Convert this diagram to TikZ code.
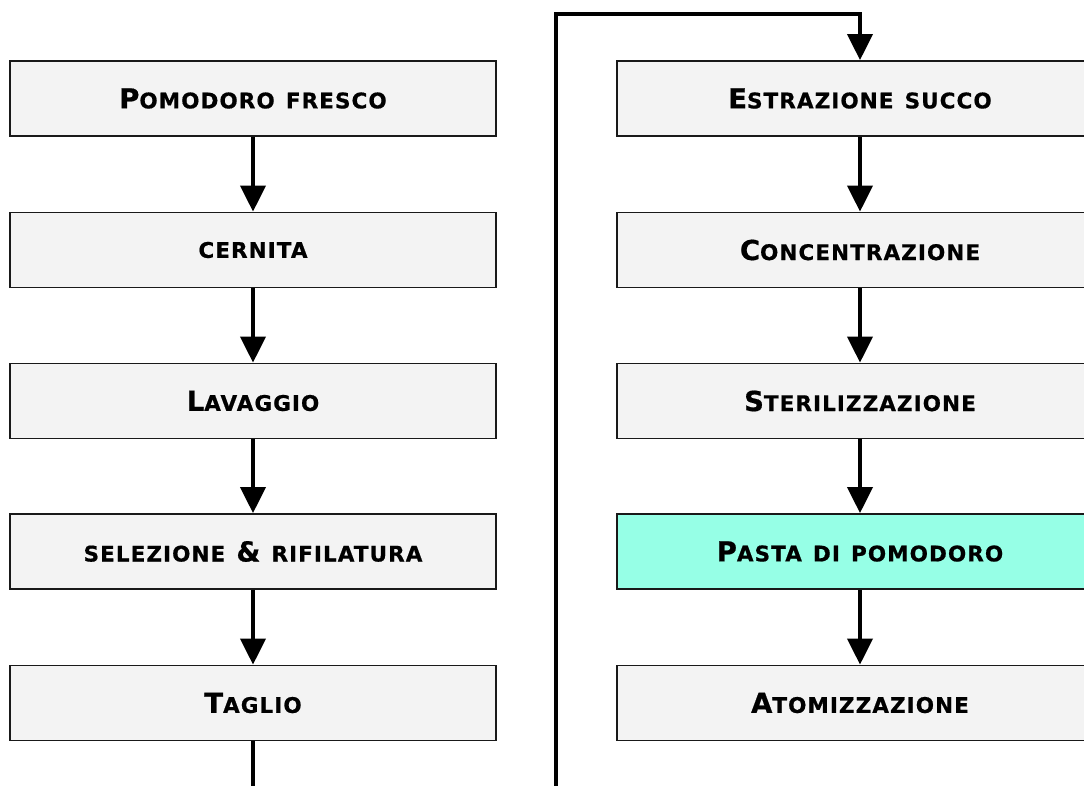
\documentclass[tikz,border=0pt]{standalone}
\usepackage{fontspec}
\setmainfont{DejaVu Sans}
\newfontfamily\stepfont{DejaVu Sans}[LetterSpace=5,WordSpace=1.3,FakeBold=0.7]
\usepackage{tikz}
\usetikzlibrary{arrows.meta}
\usepackage{xcolor}

\definecolor{boxgray}{RGB}{243,243,243}
\definecolor{pastacol}{RGB}{150,255,230}
% finto maiuscoletto: iniziale grande, resto piccolo
\newcommand{\capl}[1]{{\fontsize{27.5}{31}\selectfont #1}}
\newcommand{\smcl}[1]{{\fontsize{21.5}{25}\selectfont #1}}

\tikzset{
  stepbox/.style={draw=black!90, fill=boxgray, line width=1.8pt,
    minimum width=486pt, minimum height=75pt, inner sep=0pt,
    font=\stepfont\bfseries},
  flow/.style={line width=4pt, -{Triangle[length=26pt,width=25pt]}},
  flowline/.style={line width=4pt}
}

\begin{document}
\begin{tikzpicture}[x=1pt,y=-1pt]
\useasboundingbox (0,0) rectangle (1084,785);
\clip (0,0) rectangle (1084,785);
\fill[white] (0,0) rectangle (1084,785);
% colonna sinistra
\node[stepbox] (fresco) at (253,98.5) {\capl{P}\smcl{OMODORO FRESCO}};
\node[stepbox] (cernita) at (253,250) {\smcl{CERNITA}};
\node[stepbox] (lavaggio) at (253,401) {\capl{L}\smcl{AVAGGIO}};
\node[stepbox] (selezione) at (253,551.5) {\smcl{SELEZIONE }\capl{\&}\smcl{ RIFILATURA}};
\node[stepbox] (taglio) at (253,703) {\capl{T}\smcl{AGLIO}};
% colonna destra
\node[stepbox] (estrazione) at (860,98.5) {\capl{E}\smcl{STRAZIONE SUCCO}};
\node[stepbox] (concentr) at (860,250) {\capl{C}\smcl{ONCENTRAZIONE}};
\node[stepbox] (steril) at (860,401) {\capl{S}\smcl{TERILIZZAZIONE}};
\node[stepbox, fill=pastacol] (pasta) at (860,551.5) {\capl{P}\smcl{ASTA DI POMODORO}};
\node[stepbox] (atomizz) at (860,703) {\capl{A}\smcl{TOMIZZAZIONE}};

\draw[flow] (fresco) -- (cernita);
\draw[flow] (cernita) -- (lavaggio);
\draw[flow] (lavaggio) -- (selezione);
\draw[flow] (selezione) -- (taglio);
\draw[flow] (estrazione) -- (concentr);
\draw[flow] (concentr) -- (steril);
\draw[flow] (steril) -- (pasta);
\draw[flow] (pasta) -- (atomizz);

% collegamento tra le colonne
\coordinate (leftout) at (253,795);
\coordinate (rightin) at (555.5,795);
\coordinate (topturn) at (555.5,13.5);
\draw[flowline] (taglio) -- (leftout);
\draw[flow] (rightin) -- (topturn) -| (estrazione);
\end{tikzpicture}
\end{document}
